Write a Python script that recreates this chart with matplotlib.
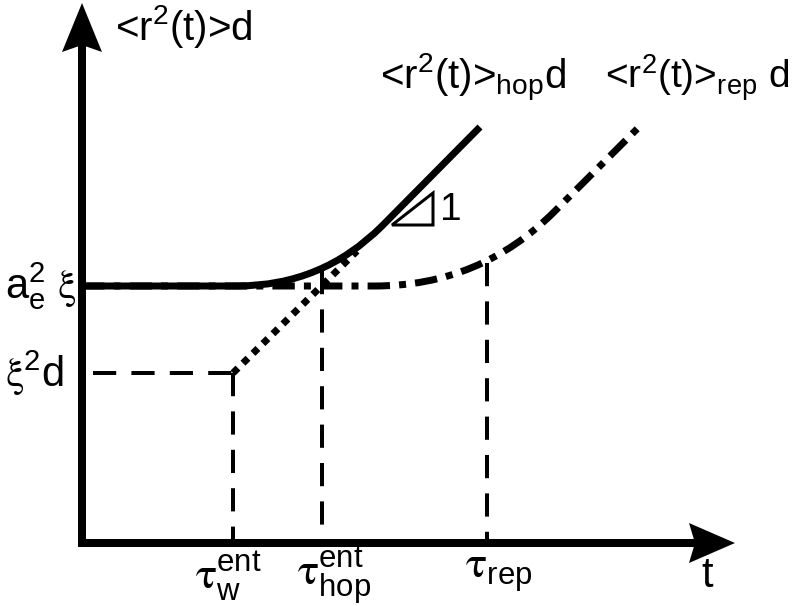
import matplotlib
matplotlib.use("Agg")
import matplotlib.pyplot as plt
from matplotlib.path import Path
from matplotlib.patches import PathPatch, Polygon

plt.rcParams["font.family"] = ["Liberation Sans", "DejaVu Sans"]
plt.rcParams["mathtext.fontset"] = "custom"
plt.rcParams["mathtext.rm"] = "Liberation Sans"
plt.rcParams["mathtext.it"] = "Liberation Sans"
plt.rcParams["mathtext.bf"] = "Liberation Sans:bold"
plt.rcParams["mathtext.sf"] = "STIXGeneral"

# schematic key values (arbitrary units)
t_w = 1.51          # tau_w^ent
t_hop = 2.40        # tau_hop^ent
t_rep = 4.05        # tau_rep
t_rep_cross = 3.98  # where the rep asymptote meets the plateau
plateau = 2.57      # a_e^2 xi
xi2d = 1.70         # xi^2 d
hop_end = (3.98, 4.16)
rep_end = (5.58, 4.17)
dotted_end = (2.75, 2.92)
knee_hop = 0.85     # width of rounded knee
knee_rep = 1.05
t_axis_end = 6.53
r_axis_end = 5.40

fig = plt.figure(figsize=(7.93, 6.06), dpi=100)
ax = fig.add_axes([0, 0, 1, 1])
ax.set_xlim(-0.82, 7.11)
ax.set_ylim(-0.63, 5.43)
ax.axis("off")

px = 0.72  # points per pixel


def knee_path(t0, level, L, end):
    d = L / 2 ** 0.5
    verts = [(0, level), (t0 - L, level), (t0, level), (t0 + d, level + d), end]
    codes = [Path.MOVETO, Path.LINETO, Path.CURVE3, Path.CURVE3, Path.LINETO]
    return Path(verts, codes)


# thin dashed guide lines
dash_kw = dict(color="black", lw=4 * px, linestyle=(0, (5.8, 3.8)), dash_capstyle="butt")
ax.plot([0.11, t_w], [xi2d, xi2d], **dash_kw)
ax.plot([t_w, t_w], [xi2d, 0], **dash_kw)
ax.plot([t_hop, t_hop], [2.72, 0], **dash_kw)
ax.plot([t_rep, t_rep], [2.80, 0], **dash_kw)

# dotted scaling line
ax.plot([t_w, dotted_end[0]], [xi2d, dotted_end[1]], color="black", lw=7 * px,
        linestyle=(0, (1, 1)), dash_capstyle="butt", solid_capstyle="butt")

# rep curve (dash-dot)
ax.add_patch(PathPatch(knee_path(t_rep_cross, plateau, knee_rep, rep_end), fill=False,
                       lw=7 * px, edgecolor="black", linestyle=(0, (3.2, 1.3, 1.0, 1.3)),
                       capstyle="butt"))

# hop curve (solid)
ax.add_patch(PathPatch(knee_path(t_hop, plateau, knee_hop, hop_end), fill=False,
                       lw=7 * px, edgecolor="black", capstyle="butt", joinstyle="round"))

# axes
ax.plot([0, 0], [-0.04, r_axis_end - 0.42], color="black", lw=8 * px, solid_capstyle="butt")
ax.plot([-0.04, t_axis_end - 0.40], [0, 0], color="black", lw=8 * px, solid_capstyle="butt")
ax.add_patch(Polygon([(0, r_axis_end), (0.20, r_axis_end - 0.49), (0, r_axis_end - 0.42),
                      (-0.20, r_axis_end - 0.49)], closed=True, color="black", lw=0))
ax.add_patch(Polygon([(t_axis_end, 0), (t_axis_end - 0.46, 0.20), (t_axis_end - 0.40, 0),
                      (t_axis_end - 0.46, -0.20)], closed=True, color="black", lw=0))

# slope triangle
ax.add_patch(Polygon([(3.10, 3.18), (3.51, 3.50), (3.51, 3.18)], closed=True, fill=False,
                     edgecolor="black", lw=3 * px))
ax.text(3.58, 3.33, "1", fontsize=28, ha="left", va="center")

# labels
fs = 30
xi = r"$\mathsf{\xi}$"
ax.text(0.33, 5.16, r"<r$^2$(t)>d", fontsize=29, ha="left", va="center")
ax.text(2.98, 4.65, r"<r$^2$(t)>$_{\mathrm{hop}}$d", fontsize=29, ha="left", va="center")
ax.text(5.23, 4.65, r"<r$^2$(t)>$_{\mathrm{rep}}$ d", fontsize=28, ha="left", va="center")
ax.text(-0.77, plateau, r"a$^2_e$ " + xi, fontsize=fs, ha="left", va="center")
ax.text(-0.77, xi2d, xi + r"$^2$d", fontsize=fs, ha="left", va="center")
ax.text(t_w - 0.05, -0.33, r"$\mathsf{\tau}^{\mathrm{ent}}_{\mathrm{w}}$", fontsize=32, ha="center", va="center")
ax.text(t_hop + 0.12, -0.33, r"$\mathsf{\tau}^{\mathrm{ent}}_{\mathrm{hop}}$", fontsize=32, ha="center", va="center")
ax.text(t_rep + 0.12, -0.31, r"$\mathsf{\tau}_{\mathrm{rep}}$", fontsize=32, ha="center", va="center")
ax.text(6.25, -0.33, "t", fontsize=fs, ha="center", va="center")

fig.savefig("out.png", dpi=100)
